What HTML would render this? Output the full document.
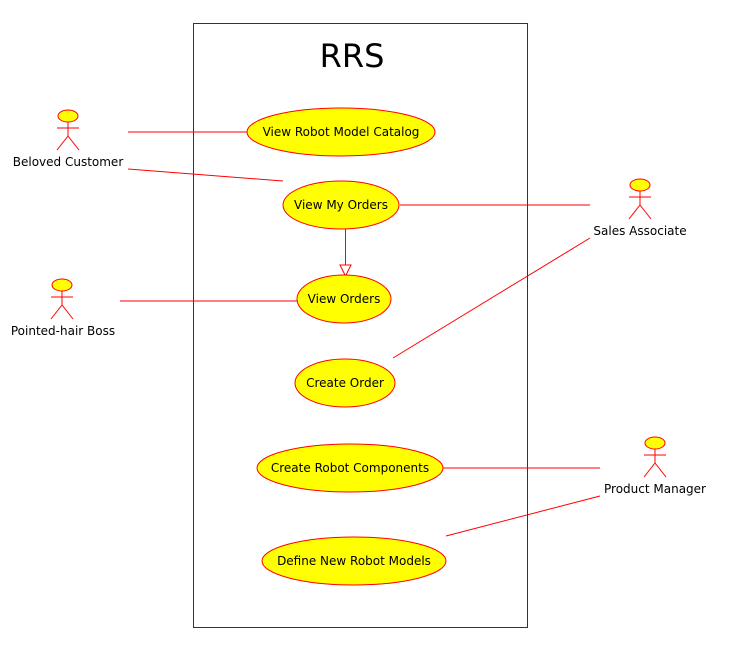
<!DOCTYPE html>
<html><head><style>body{margin:0;background:#fff}svg{display:block}</style></head><body>
<svg width="738" height="653" xmlns="http://www.w3.org/2000/svg" font-family="DejaVu Sans, Liberation Sans, sans-serif">
<rect x="193.5" y="23.5" width="334" height="604" fill="none" stroke="#333" stroke-width="1"/>
<text x="352" y="67" font-size="32" text-anchor="middle">RRS</text>
<g stroke="#f00" stroke-width="1" fill="none">
<line x1="128" y1="132" x2="247" y2="132"/>
<line x1="128" y1="169" x2="283" y2="181"/>
<line x1="120" y1="301" x2="297" y2="301"/>
<line x1="400" y1="205" x2="590" y2="205"/>
<line x1="393" y1="358" x2="590" y2="238"/>
<line x1="443" y1="468" x2="600" y2="468"/>
<line x1="446" y1="536" x2="600" y2="496"/>
<line x1="345.5" y1="229" x2="345.5" y2="265"/>
<polygon points="340,265 351,265 345.5,276" fill="#fff"/>
</g>
<g fill="#ff0" stroke="#f00" stroke-width="1">
<ellipse cx="341" cy="132" rx="94" ry="24"/>
<ellipse cx="341" cy="205" rx="58" ry="24"/>
<ellipse cx="344" cy="299" rx="47" ry="24"/>
<ellipse cx="345" cy="383" rx="50" ry="24"/>
<ellipse cx="350" cy="468" rx="93" ry="24"/>
<ellipse cx="354" cy="561" rx="92" ry="24"/>
</g>
<g font-size="12" text-anchor="middle" fill="#000">
<text x="341" y="136">View Robot Model Catalog</text>
<text x="341" y="209">View My Orders</text>
<text x="344" y="303">View Orders</text>
<text x="345" y="387">Create Order</text>
<text x="350" y="472">Create Robot Components</text>
<text x="354" y="565">Define New Robot Models</text>
<text x="68" y="166">Beloved Customer</text>
<text x="63" y="335">Pointed-hair Boss</text>
<text x="640" y="235">Sales Associate</text>
<text x="655" y="493">Product Manager</text>
</g>
<defs>
<g id="actor" stroke="#f00" stroke-width="1">
<ellipse cx="0" cy="0" rx="10" ry="6" fill="#ff0"/>
<line x1="0" y1="6" x2="0" y2="20" fill="none"/>
<line x1="-11" y1="12" x2="11" y2="12"/>
<line x1="0" y1="20" x2="-11" y2="34"/>
<line x1="0" y1="20" x2="11" y2="34"/>
</g>
</defs>
<use href="#actor" x="68" y="116"/>
<use href="#actor" x="62" y="285"/>
<use href="#actor" x="640" y="185"/>
<use href="#actor" x="655" y="443"/>
</svg>
</body></html>
